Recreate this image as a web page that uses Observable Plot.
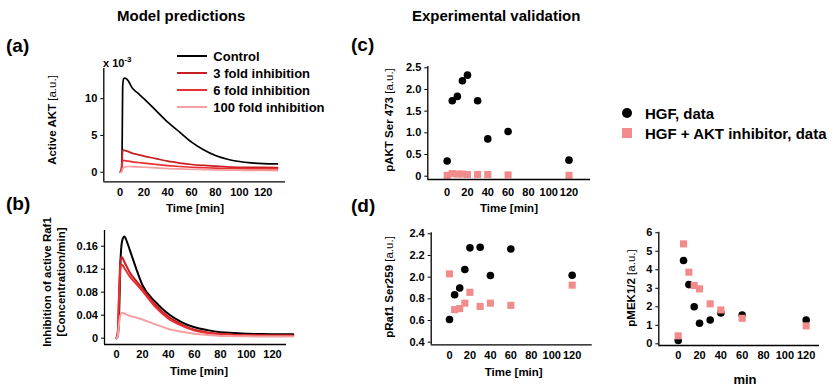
<!DOCTYPE html>
<html><head><meta charset="utf-8">
<script src="https://cdn.jsdelivr.net/npm/d3@7"></script>
<script src="https://cdn.jsdelivr.net/npm/@observablehq/plot@0.6"></script>
<style>
body{margin:0;background:#fff;}
#wrap{position:relative;width:834px;height:388px;overflow:hidden;background:#fff;font-family:"Liberation Sans",Arial,sans-serif;color:#000;}
.layer{position:absolute;left:0;top:0;width:834px;height:388px;}
.t{position:absolute;white-space:nowrap;font-weight:bold;line-height:1;}
.c{transform:translate(-50%,-50%);}
.l{transform:translate(0,-50%);}
.r{transform:translate(-50%,-50%) rotate(-90deg);text-align:center;}
.n{font-weight:normal;}
</style></head><body><div id="wrap"></div>
<script>
// ---------- Model predictions (a): Active AKT (x 10^-3) ----------
const timeA = [0, 1, 1.7, 2.2, 3, 4, 5, 7, 10, 15, 20, 30, 40, 50, 60, 70, 80, 90, 100, 110, 120, 132];
const aktControl = [0, 0.2, 2, 11.5, 12.7, 12.8, 12.75, 12.4, 11.5, 10.75, 10.0, 8.4, 6.8, 5.45, 4.1, 3.05, 2.27, 1.77, 1.46, 1.28, 1.18, 1.14];
const akt3fold   = [0, 0.1, 1.5, 2.9, 3.0, 2.95, 2.9, 2.8, 2.6, 2.4, 2.2, 1.85, 1.5, 1.25, 1.05, 0.92, 0.82, 0.74, 0.68, 0.66, 0.65, 0.64];
const akt6fold   = [0, 0.05, 0.8, 1.5, 1.6, 1.58, 1.55, 1.5, 1.42, 1.32, 1.23, 1.06, 0.91, 0.78, 0.68, 0.61, 0.55, 0.51, 0.49, 0.47, 0.46, 0.46];
const akt100fold = [0, 0.02, 0.2, 0.45, 0.6, 0.7, 0.76, 0.78, 0.76, 0.72, 0.68, 0.59, 0.5, 0.45, 0.4, 0.36, 0.32, 0.29, 0.27, 0.25, 0.24, 0.23];

// ---------- Model predictions (b): Inhibition of active Raf1 ----------
const timeB = [0, 1, 2, 3, 4, 5, 6, 8, 10, 15, 20, 30, 40, 50, 60, 70, 80, 90, 100, 110, 120, 136];
const rafControl = [0, 0.004, 0.04, 0.13, 0.165, 0.174, 0.177, 0.168, 0.155, 0.122, 0.092, 0.063, 0.042, 0.028, 0.019, 0.014, 0.0105, 0.009, 0.0078, 0.0073, 0.007, 0.007];
const raf3fold   = [0, 0.01, 0.08, 0.135, 0.141, 0.138, 0.133, 0.124, 0.115, 0.1, 0.086, 0.058, 0.037, 0.024, 0.0146, 0.01, 0.0075, 0.006, 0.0053, 0.005, 0.0048, 0.0047];
const raf6fold   = [0, 0.01, 0.075, 0.122, 0.128, 0.126, 0.122, 0.115, 0.108, 0.095, 0.082, 0.054, 0.034, 0.022, 0.0134, 0.009, 0.007, 0.0055, 0.0048, 0.0044, 0.0042, 0.004];
const raf100fold = [0, 0.004, 0.025, 0.04, 0.044, 0.044, 0.043, 0.041, 0.039, 0.036, 0.0325, 0.024, 0.016, 0.011, 0.0075, 0.0055, 0.004, 0.0035, 0.0032, 0.003, 0.003, 0.003];

const modelNames  = ["Control", "3 fold inhibition", "6 fold inhibition", "100 fold inhibition"];
const modelColors = ["#000000", "#c81e22", "#ea2f33", "#f5a0a0"];

// ---------- Experimental validation ----------
const expTime = [0, 5, 10, 15, 20, 30, 40, 60, 120];
const pAktHGF = [0.35, 1.74, 1.84, 2.2, 2.33, 1.74, 0.86, 1.03, 0.37];
const pAktInh = [0.02, 0.06, 0.05, 0.05, 0.04, 0.04, 0.04, 0.03, 0.02];
const pRafHGF = [0.61, 0.837, 0.9, 1.07, 1.27, 1.276, 1.015, 1.26, 1.018];
const pRafInh = [1.03, 0.7, 0.71, 0.76, 0.86, 0.73, 0.76, 0.74, 0.926];
const pMekHGF = [0.18, 4.5, 3.2, 2.0, 1.11, 1.29, 1.67, 1.56, 1.29];
const pMekInh = [0.43, 5.4, 3.87, 3.15, 2.97, 2.16, 1.83, 1.38, 0.97];

const expNames = ["HGF, data", "HGF + AKT inhibitor, data"];
const hgfColor = "#000000";
const inhColor = "#f28c8c";

// tick values / labels
const timeTicks = [0, 20, 40, 60, 80, 100, 120];
const aktTicks = [0, 5, 10];
const rafModelTicks = [0, 0.04, 0.08, 0.12, 0.16];
const rafModelLabels = ["0", "0.04", "0.08", "0.12", "0.16"];
const pAktTicks = [0, 0.5, 1.0, 1.5, 2.0, 2.5];
const pAktLabels = ["0", "0.5", "1.0", "1.5", "2.0", "2.5"];
const pRafTicks = [0.4, 0.6, 0.8, 1.0, 1.2, 1.4];
const pRafLabels = ["0.4", "0.6", "0.8", "2.0", "2.2", "2.4"];
const pMekTicks = [0, 1, 2, 3, 4, 5, 6];

// ---------- build ----------
const W = 834, H = 388;
const wrap = document.getElementById("wrap");
const FONT = "'Liberation Sans', Arial, sans-serif";

function panel(o) {
  const svg = Plot.plot({
    width: W, height: H,
    marginLeft: o.left, marginRight: W - o.right, marginTop: o.top, marginBottom: H - o.bottom,
    x: {domain: o.xDomain},
    y: {domain: o.yDomain},
    style: {background: "transparent", overflow: "visible", fontFamily: FONT, fontSize: "11px", fontWeight: "bold", color: "#000"},
    marks: [
      Plot.axisX({ticks: timeTicks, tickSize: 0, tickPadding: o.xPad, label: null, fontSize: 11, fontWeight: "bold"}),
      Plot.axisY({ticks: o.yTicks, tickSize: 3, tickPadding: 3.5, label: null, tickFormat: o.yFormat, fontSize: 11, fontWeight: "bold"}),
      ...o.marks,
      Plot.ruleX([o.xDomain[0]], {stroke: "#000", strokeWidth: 1.3}),
      Plot.ruleY([o.yDomain[0]], {stroke: "#000", strokeWidth: 1.3})
    ]
  });
  const d = document.createElement("div");
  d.className = "layer";
  d.appendChild(svg);
  wrap.appendChild(d);
}

function lines(times, series, width) {
  return series.map((vals, k) => Plot.line(times.map((t, i) => ({t, v: vals[i]})),
    {x: "t", y: "v", stroke: modelColors[k], strokeWidth: width, curve: "monotone-x"}));
}
function dots(a, b) {
  return [
    Plot.dot(expTime.map((t, i) => ({t, v: a[i]})), {x: "t", y: "v", r: 3.8, fill: hgfColor}),
    Plot.dot(expTime.map((t, i) => ({t, v: b[i]})), {x: "t", y: "v", r: 4, symbol: "square", fill: inhColor})
  ];
}

// (a)
panel({left: 103.3, right: 285, top: 68, bottom: 181.3, xDomain: [-13.6, 138.7], yDomain: [-1.3, 14.1],
  yTicks: aktTicks, yFormat: d => String(d), xPad: 6,
  marks: lines(timeA, [aktControl, akt3fold, akt6fold, akt100fold], 1.7)});
// (b)
panel({left: 104, right: 286, top: 230, bottom: 344, xDomain: [-9.23, 130.8], yDomain: [-0.011, 0.1873],
  yTicks: rafModelTicks, yFormat: d => rafModelLabels[rafModelTicks.indexOf(d)], xPad: 6,
  marks: lines(timeB, [rafControl, raf3fold, raf6fold, raf100fold], 2)});
// (c)
panel({left: 427.3, right: 590, top: 66, bottom: 179, xDomain: [-19.1, 141.2], yDomain: [-0.076, 2.53],
  yTicks: pAktTicks, yFormat: d => pAktLabels[pAktTicks.indexOf(d)], xPad: 9,
  marks: dots(pAktHGF, pAktInh)});
// (d)
panel({left: 430.7, right: 591.7, top: 232.3, bottom: 344.3, xDomain: [-17.9, 139.6], yDomain: [0.376, 1.409],
  yTicks: pRafTicks, yFormat: d => pRafLabels[pRafTicks.indexOf(d)], xPad: 6,
  marks: dots(pRafHGF, pRafInh)});
// pMEK
panel({left: 658.3, right: 819, top: 231.7, bottom: 345, xDomain: [-18.2, 132.5], yDomain: [-0.09, 6.03],
  yTicks: pMekTicks, yFormat: d => String(d), xPad: 6,
  marks: dots(pMekHGF, pMekInh)});

// ---------- text ----------
function txt(html, x, y, cls, size, extra) {
  const e = document.createElement("div");
  e.className = "t " + cls;
  e.style.left = x + "px";
  e.style.top = y + "px";
  e.style.fontSize = size + "px";
  if (extra) Object.assign(e.style, extra);
  e.innerHTML = html;
  wrap.appendChild(e);
  return e;
}
txt("Model predictions", 117, 15, "l", 15);
txt("Experimental validation", 412, 15, "l", 15);
txt("(a)", 6, 45, "l", 19);
txt("(b)", 6, 203, "l", 19);
txt("(c)", 351, 44, "l", 19);
txt("(d)", 351, 205, "l", 19);
txt("x 10<sup style='font-size:8px;vertical-align:5px'>-3</sup>", 103, 62, "l", 11);

// model legend
const legY = [56, 73.3, 90, 107.3];
modelNames.forEach((n, k) => {
  const ln = document.createElement("div");
  ln.style.cssText = `position:absolute;left:176.7px;top:${legY[k] - 1}px;width:30px;height:2px;background:${modelColors[k]}`;
  wrap.appendChild(ln);
  txt(n, 213.3, legY[k], "l", 13);
});

// experimental legend
const mk1 = document.createElement("div");
mk1.style.cssText = `position:absolute;left:621.7px;top:107.7px;width:10px;height:10px;border-radius:50%;background:${hgfColor}`;
wrap.appendChild(mk1);
const mk2 = document.createElement("div");
mk2.style.cssText = `position:absolute;left:621.7px;top:128.3px;width:10px;height:10px;background:${inhColor}`;
wrap.appendChild(mk2);
txt(expNames[0], 645, 112.7, "l", 15);
txt(expNames[1], 645, 133.3, "l", 15);

// axis titles
txt("Time [min]", 195, 209, "c", 11.5);
txt("Time [min]", 199, 371.7, "c", 11.5);
txt("Time [min]", 509, 209, "c", 11.5);
txt("Time [min]", 513.7, 372.7, "c", 11.5);
txt("min", 745, 379, "c", 13);
txt("Active AKT <span class='n'>[a.u.]</span>", 53.3, 120, "r", 11.5);
txt("Inhibition of active Raf1<br>[Concentration/min]", 53.7, 281.5, "r", 11.5, {lineHeight: "14px"});
txt("pAKT Ser 473 <span class='n'>[a.u.]</span>", 390, 120.3, "r", 11.5);
txt("pRaf1 Ser259 <span class='n'>[a.u.]</span>", 390, 286.7, "r", 11.5);
txt("pMEK1/2 <span class='n'>[a.u.]</span>", 631.7, 288.3, "r", 11.5);
</script></body></html>
